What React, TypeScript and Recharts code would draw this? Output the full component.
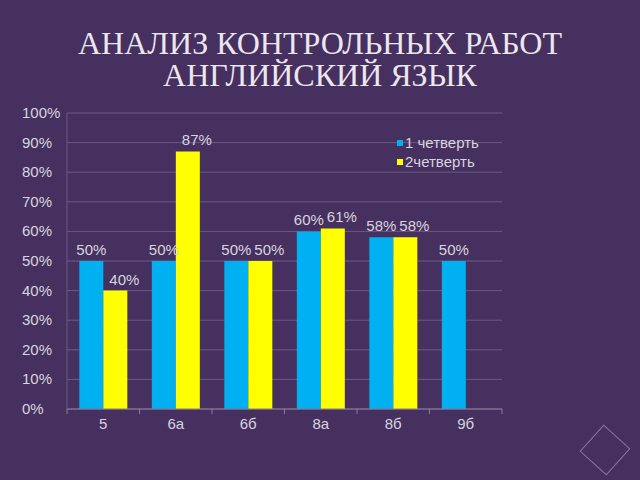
import { BarChart, Bar, XAxis, YAxis, CartesianGrid, LabelList } from 'recharts';

const classes = ['5', '6а', '6б', '8а', '8б', '9б'];
const quarter1 = [50, 50, 50, 60, 58, 50];
const quarter2 = [40, 87, 50, 61, 58, null];
const yTicks = [0, 10, 20, 30, 40, 50, 60, 70, 80, 90, 100];
const seriesNames = ['1 четверть', '2четверть'];
const titleLines = ['АНАЛИЗ КОНТРОЛЬНЫХ РАБОТ', 'АНГЛИЙСКИЙ ЯЗЫК'];

const data = classes.map((name, i) => ({ name, q1: quarter1[i], q2: quarter2[i] }));

const BG = '#46305f';
const TEXT = '#d9d4de';
const BLUE = '#00b0f0';
const YELLOW = '#ffff00';
const FONT = '"Liberation Sans", Arial, sans-serif';

const YTick = (props: any) => {
  const { y, payload } = props;
  return (
    <text x={22} y={y} dy={5} textAnchor="start" fill={TEXT} fontSize={15} fontFamily={FONT}>
      {payload.value}%
    </text>
  );
};

const XTick = (props: any) => {
  const { x, y, payload, index } = props;
  const band = 435 / classes.length;
  return (
    <g>
      <line x1={x - band / 2} x2={x - band / 2} y1={y - 8} y2={y - 3} stroke="#8a7c9c" />
      {index === classes.length - 1 && (
        <line x1={x + band / 2} x2={x + band / 2} y1={y - 8} y2={y - 3} stroke="#8a7c9c" />
      )}
      <text x={x} y={y} dy={12} textAnchor="middle" fill={TEXT} fontSize={15} fontFamily={FONT}>
        {payload.value}
      </text>
    </g>
  );
};

export default function App() {
  return (
    <div style={{ position: 'fixed', left: 0, top: 0, width: 640, height: 480, background: BG, overflow: 'hidden' }}>
      {titleLines.map((t, i) => (
        <div
          key={i}
          style={{
            position: 'absolute',
            top: 28 + i * 32,
            left: 0,
            width: 640,
            textAlign: 'center',
            color: '#ece6ee',
            fontFamily: '"Liberation Serif", "DejaVu Serif", serif',
            fontSize: 32,
            lineHeight: '30px',
            whiteSpace: 'nowrap',
          }}
        >
          {t}
        </div>
      ))}
      <div style={{ position: 'absolute', left: 0, top: 0 }}>
        <BarChart
          width={640}
          height={480}
          data={data}
          margin={{ top: 113, right: 138, bottom: 0, left: 0 }}
          barCategoryGap="17%"
          barGap={0}
        >
          <CartesianGrid vertical={false} stroke="#6c5a84" />
          <XAxis
            dataKey="name"
            height={71}
            axisLine={{ stroke: '#8a7c9c' }}
            tickLine={false}
            tick={<XTick />}
            interval={0}
          />
          <YAxis
            width={67}
            domain={[0, 100]}
            ticks={yTicks}
            axisLine={{ stroke: '#6c5a84' }}
            tickLine={false}
            tick={<YTick />}
          />
          <Bar dataKey="q1" name={seriesNames[0]} fill={BLUE} isAnimationActive={false}>
            <LabelList dataKey="q1" position="top" offset={6} fill={TEXT} fontSize={15} fontFamily={FONT} formatter={(v: any) => `${v}%`} />
          </Bar>
          <Bar dataKey="q2" name={seriesNames[1]} fill={YELLOW} isAnimationActive={false}>
            <LabelList dataKey="q2" position="top" offset={6} dx={9} fill={TEXT} fontSize={15} fontFamily={FONT} formatter={(v: any) => (v == null ? '' : `${v}%`)} />
          </Bar>
        </BarChart>
      </div>
      <div
        style={{
          position: 'absolute',
          left: 397,
          top: 133,
          fontFamily: FONT,
          fontSize: 15,
          color: TEXT,
          lineHeight: '19px',
        }}
      >
        {[BLUE, YELLOW].map((c, i) => (
          <div key={i} style={{ display: 'flex', alignItems: 'center' }}>
            <span style={{ width: 6, height: 6, background: c, marginRight: 2, display: 'inline-block' }} />
            {seriesNames[i]}
          </div>
        ))}
      </div>
      <div
        style={{
          position: 'absolute',
          left: 587,
          top: 432,
          width: 34,
          height: 34,
          border: '1px solid rgba(190,170,215,0.55)',
          transform: 'rotate(42deg)',
        }}
      />
    </div>
  );
}
